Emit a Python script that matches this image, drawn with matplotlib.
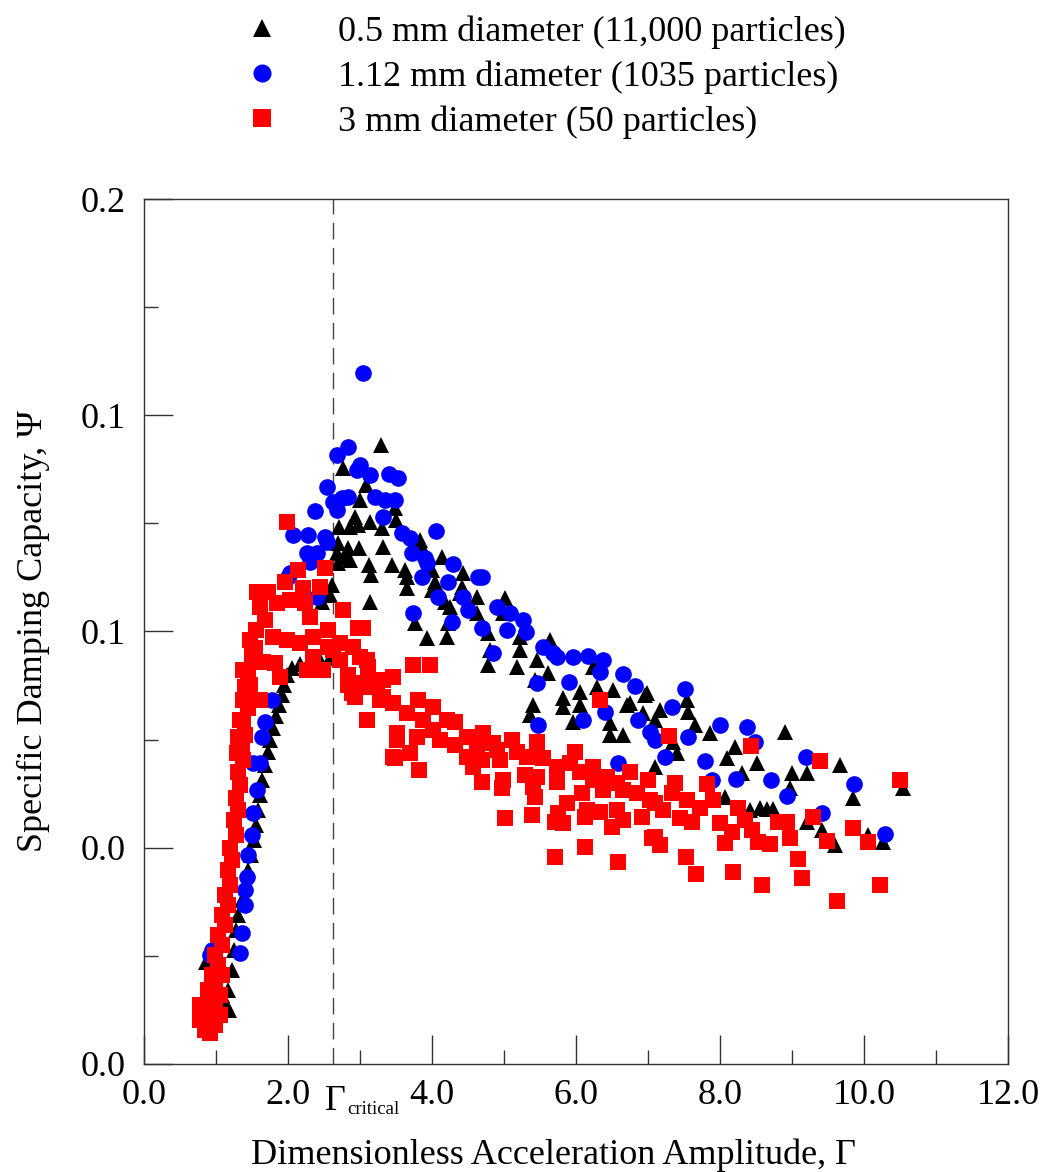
import numpy as np
import matplotlib
matplotlib.use("Agg")
import matplotlib.pyplot as plt
from matplotlib.ticker import MultipleLocator
from matplotlib.lines import Line2D

plt.rcParams['font.family'] = ['Liberation Serif', 'DejaVu Serif']

# (Gamma, Psi)
pts_05mm = [
    (0.86, 0.0236), (0.94, 0.0206), (1.03, 0.0183), (1.08, 0.016), (1.14, 0.0136),
    (1.18, 0.0125), (1.17, 0.0171), (1.22, 0.0217), (1.25, 0.0264), (1.28, 0.031),
    (1.31, 0.0344), (1.36, 0.0379), (1.40, 0.0414), (1.44, 0.0449), (1.49, 0.0483),
    (1.53, 0.0518), (1.56, 0.0553), (1.58, 0.0587), (1.61, 0.0622), (1.64, 0.0657),
    (1.68, 0.0691), (1.72, 0.0721), (1.75, 0.0749), (1.79, 0.0777), (1.83, 0.0805),
    (1.875, 0.083), (1.92, 0.0853), (1.94, 0.0876), (1.99, 0.0899), (2.06, 0.0916),
    (2.17, 0.0925), (2.31, 0.0929), (2.44, 0.0934), (2.58, 0.0939),
    (3.29, 0.1431), (2.76, 0.1378), (3.08, 0.1339), (3.0, 0.1304), (2.93, 0.1265),
    (2.71, 0.1242), (2.86, 0.1242), (2.97, 0.1246), (3.14, 0.1253), (3.31, 0.1239),
    (3.49, 0.1285), (3.5, 0.1258), (2.69, 0.1205), (2.83, 0.1193), (2.99, 0.1193),
    (3.32, 0.1195), (2.68, 0.1181), (2.79, 0.1172), (2.86, 0.1165), (2.69, 0.1158),
    (3.125, 0.1154), (3.44, 0.1154), (3.15, 0.1131), (3.625, 0.1142), (3.83, 0.1211),
    (3.86, 0.1195), (3.65, 0.1126), (4.0, 0.1142), (4.14, 0.1172), (4.04, 0.1114),
    (3.65, 0.1101), (4.0, 0.1096), (3.14, 0.1068), (2.61, 0.1107), (2.58, 0.1084),
    (2.47, 0.1068), (4.18, 0.1068), (4.43, 0.1135), (4.39, 0.1089), (3.76, 0.102),
    (3.93, 0.0985), (4.21, 0.0987), (4.22, 0.102), (4.25, 0.1057), (4.42, 0.1103),
    (4.625, 0.108), (4.625, 0.1043), (4.78, 0.0996), (4.81, 0.0957), (4.78, 0.0922),
    (5.01, 0.1077), (4.99, 0.1043), (5.22, 0.0987), (5.22, 0.0957), (5.18, 0.0918),
    (5.46, 0.0934), (5.64, 0.098), (5.61, 0.0904), (5.43, 0.0888), (5.40, 0.083),
    (5.36, 0.0807), (5.82, 0.0846), (5.82, 0.0825), (6.06, 0.086), (6.06, 0.083),
    (5.96, 0.0791), (6.29, 0.0918), (6.29, 0.0872), (6.51, 0.0865), (6.47, 0.0788),
    (6.47, 0.0761), (6.71, 0.083), (6.65, 0.0761), (6.99, 0.0858), (6.93, 0.0811),
    (7.17, 0.0818), (7.54, 0.0842), (7.56, 0.0814), (7.65, 0.0784), (7.86, 0.0765),
    (7.35, 0.0744), (7.40, 0.0719), (7.10, 0.0687), (8.21, 0.0733), (8.10, 0.0707),
    (8.51, 0.0696), (8.31, 0.0673), (8.90, 0.0768), (9.0, 0.0673), (9.21, 0.0673),
    (9.67, 0.0691), (8.07, 0.0617), (8.42, 0.0587), (8.56, 0.0592), (8.65, 0.059),
    (8.74, 0.059), (8.97, 0.0638), (9.21, 0.056), (9.42, 0.0541), (9.60, 0.0506),
    (9.85, 0.0615), (10.06, 0.0529), (10.26, 0.0513), (10.54, 0.0638), (6.75, 0.0835),
    (6.96, 0.0853), (7.10, 0.0795), (6.24, 0.0918),
]

pts_112mm = [
    (0.92, 0.0252), (0.94, 0.0264), (1.33, 0.0257), (1.36, 0.0303), (1.40, 0.0368),
    (1.40, 0.0402), (1.43, 0.0432), (1.44, 0.0483), (1.50, 0.0529), (1.51, 0.058),
    (1.57, 0.0633), (1.51, 0.0696), (1.61, 0.0696), (1.64, 0.0756), (1.68, 0.0791),
    (1.78, 0.0842), (3.04, 0.1598), (2.83, 0.1427), (2.68, 0.1408), (3.0, 0.1385),
    (2.96, 0.1373), (3.14, 0.1362), (3.40, 0.1364), (3.53, 0.1355), (2.54, 0.1334),
    (2.625, 0.1299), (2.83, 0.1311), (2.75, 0.1309), (2.68, 0.1281), (3.21, 0.1311),
    (3.35, 0.1304), (3.49, 0.1304), (2.375, 0.1279), (3.32, 0.1265), (2.07, 0.1223),
    (2.28, 0.1223), (2.51, 0.1218), (2.54, 0.1207), (3.58, 0.1228), (3.69, 0.1216),
    (4.06, 0.1232), (2.26, 0.1181), (2.40, 0.1181), (3.72, 0.1181), (3.90, 0.117),
    (3.93, 0.1158), (4.29, 0.1156), (3.86, 0.1126), (4.22, 0.1114), (4.08, 0.108),
    (4.43, 0.108), (3.74, 0.1043), (4.28, 0.1022), (2.40, 0.108), (2.03, 0.1135),
    (2.31, 0.1161), (2.0, 0.1126), (4.5, 0.105), (4.64, 0.1126), (4.69, 0.1126),
    (4.69, 0.1008), (4.90, 0.1057), (5.08, 0.1043), (5.04, 0.1003), (5.26, 0.1027),
    (5.31, 0.0999), (4.85, 0.095), (5.54, 0.0964), (5.68, 0.095), (5.74, 0.0941),
    (5.96, 0.0941), (6.17, 0.0943), (6.375, 0.0934), (6.33, 0.0906), (5.90, 0.0883),
    (5.46, 0.0881), (6.65, 0.0902), (6.82, 0.0874), (7.51, 0.0867), (7.33, 0.0825),
    (6.40, 0.0814), (6.10, 0.0795), (6.86, 0.0795), (5.47, 0.0784), (7.03, 0.0768),
    (7.56, 0.0756), (8.0, 0.0784), (7.10, 0.0749), (7.24, 0.071), (7.79, 0.0701),
    (8.375, 0.0779), (8.49, 0.0744), (7.89, 0.0657), (8.22, 0.0659), (8.71, 0.0657),
    (8.93, 0.062), (9.19, 0.071), (9.86, 0.0647), (9.42, 0.058), (10.29, 0.0532),
    (6.58, 0.0696),
]

pts_3mm = [
    (0.78, 0.0102), (0.85, 0.0079), (0.92, 0.0072), (0.99, 0.009), (0.78, 0.0136),
    (0.92, 0.0148), (0.99, 0.0125), (1.06, 0.0113), (0.89, 0.0171), (0.99, 0.0183),
    (1.06, 0.016), (0.94, 0.0206), (1.03, 0.0229), (1.08, 0.0206), (0.99, 0.0252),
    (1.08, 0.0275), (1.03, 0.0298), (1.125, 0.0321), (1.08, 0.0344), (1.17, 0.0368),
    (1.125, 0.0391), (1.19, 0.0414), (1.17, 0.0449), (1.22, 0.0472), (1.19, 0.0499),
    (1.28, 0.0529), (1.25, 0.0564), (1.31, 0.0587), (1.28, 0.0615), (1.33, 0.0645),
    (1.31, 0.0675), (1.375, 0.0703), (1.36, 0.0731), (1.40, 0.0761), (1.375, 0.0795),
    (1.44, 0.0823), (1.42, 0.0853), (1.47, 0.0876), (1.44, 0.0906), (1.50, 0.0934),
    (1.54, 0.0962), (1.47, 0.098), (1.56, 0.1003), (1.33, 0.0795), (1.31, 0.0756),
    (1.29, 0.0719),
    (1.57, 0.1091), (1.72, 0.1091), (1.96, 0.1114), (2.14, 0.1142), (2.51, 0.1147),
    (2.44, 0.1103), (2.21, 0.1101), (1.61, 0.1057), (1.85, 0.1066), (2.03, 0.1073),
    (2.24, 0.1066), (2.31, 0.1033), (1.68, 0.1027), (1.50, 0.0957), (1.79, 0.0987),
    (1.99, 0.098), (2.17, 0.0973), (2.35, 0.0987), (2.56, 0.1003), (2.76, 0.105),
    (2.97, 0.1008), (2.72, 0.0973), (2.90, 0.0964), (2.56, 0.0964), (2.35, 0.0941),
    (2.26, 0.0911), (2.49, 0.0911), (1.89, 0.0895), (1.375, 0.0911), (1.40, 0.0872),
    (1.65, 0.0929), (1.82, 0.0927), (1.375, 0.0842), (1.61, 0.0842), (3.10, 0.0934),
    (2.83, 0.0899), (2.89, 0.0858), (3.10, 0.0872), (3.32, 0.0888), (3.46, 0.0895),
    (3.28, 0.0842), (3.10, 0.0795), (3.46, 0.0835), (3.51, 0.0749), (3.46, 0.071),
    (1.99, 0.1253), (3.04, 0.1008), (3.74, 0.0922), (3.97, 0.0922),
    (2.625, 0.0957), (2.72, 0.0934), (3.0, 0.0941), (3.11, 0.0918), (2.83, 0.0876),
    (3.03, 0.0881), (2.93, 0.0849), (3.24, 0.0883), (3.32, 0.0849), (3.81, 0.0842),
    (4.01, 0.0825), (3.65, 0.0811), (3.875, 0.0795), (4.21, 0.0795), (4.32, 0.0791),
    (4.01, 0.0772), (3.51, 0.0765), (3.79, 0.0756), (3.69, 0.0719), (3.49, 0.0707),
    (3.82, 0.068), (4.11, 0.0749), (4.32, 0.0738), (4.49, 0.0756), (4.71, 0.0765),
    (4.49, 0.071), (4.625, 0.0733), (4.85, 0.0742), (4.69, 0.0703), (4.57, 0.0687),
    (4.90, 0.0726), (5.11, 0.0749), (5.46, 0.0744), (5.18, 0.0721), (4.94, 0.0703),
    (5.32, 0.071), (5.54, 0.0707), (4.69, 0.0652), (4.99, 0.0657), (4.97, 0.0638),
    (5.29, 0.0668), (5.46, 0.0664), (5.40, 0.064), (5.43, 0.0617), (5.74, 0.0687),
    (5.92, 0.0696), (5.99, 0.0721), (5.74, 0.0652), (6.06, 0.0675), (6.24, 0.0687),
    (6.24, 0.0657), (6.43, 0.0664), (6.375, 0.0633), (6.57, 0.065), (6.08, 0.0627),
    (5.875, 0.0603), (5.75, 0.058), (6.15, 0.0587), (6.33, 0.0583), (6.65, 0.0633),
    (6.75, 0.0675), (7.0, 0.0657), (6.85, 0.0627), (7.03, 0.061), (6.57, 0.0587),
    (6.65, 0.0564), (6.92, 0.0571), (5.01, 0.0569), (5.39, 0.0576), (5.71, 0.056),
    (5.82, 0.0557), (6.125, 0.0571), (6.5, 0.0548), (7.06, 0.0523), (6.125, 0.0502),
    (5.71, 0.0479), (6.58, 0.0467), (6.33, 0.0842), (7.29, 0.0758), (8.43, 0.0735),
    (9.39, 0.0701), (10.5, 0.0657), (7.375, 0.065), (7.82, 0.0647), (7.33, 0.0627),
    (7.54, 0.061), (7.90, 0.061), (7.72, 0.0592), (8.25, 0.0592), (7.10, 0.0603),
    (7.21, 0.0587), (7.44, 0.0569), (7.61, 0.056), (8.0, 0.0557), (8.35, 0.0564),
    (8.81, 0.056), (8.93, 0.056), (9.29, 0.0571), (8.17, 0.0536), (8.44, 0.0541),
    (8.07, 0.0511), (8.53, 0.0513), (8.69, 0.0509), (8.97, 0.0523), (9.49, 0.0516),
    (9.85, 0.0546), (10.06, 0.0513), (7.10, 0.0525), (7.17, 0.0506), (7.53, 0.0479),
    (7.67, 0.0439), (8.18, 0.0444), (9.08, 0.0474), (9.14, 0.043), (8.58, 0.0414),
    (9.625, 0.0377), (10.22, 0.0414),
]

gamma_critical = 2.625

labels = ['0.5 mm diameter (11,000 particles)',
          '1.12 mm diameter (1035 particles)',
          '3 mm diameter (50 particles)']

x_ticks = [0, 2, 4, 6, 8, 10, 12]
x_ticklabels = ['0.0', '2.0', '4.0', '6.0', '8.0', '10.0', '12.0']
y_ticks = [0.0, 0.05, 0.10, 0.15, 0.20]
y_ticklabels = ['0.0', '0.0', '0.1', '0.1', '0.2']

g05, p05 = np.array(pts_05mm).T
g112, p112 = np.array(pts_112mm).T
g3, p3 = np.array(pts_3mm).T

fig = plt.figure(figsize=(10.46, 11.72), dpi=100)
ax = fig.add_axes([0.1377, 0.0922, 0.826, 0.738])

ax.axvline(gamma_critical, color='#444444', lw=1.0, ls=(0, (12, 6)), zorder=1)

ms = 12
ax.plot(g05, p05, ls='none', marker='^', color='black', ms=ms, mew=0, zorder=2)
ax.plot(g112, p112, ls='none', marker='o', color='#0000ff', ms=ms, mew=0, zorder=3)
ax.plot(g3, p3, ls='none', marker='s', color='#ff0000', ms=ms, mew=0, zorder=4)

ax.set_xlim(0, 12)
ax.set_ylim(0, 0.2)
ax.set_xticks(x_ticks)
ax.set_xticklabels(x_ticklabels)
ax.xaxis.set_minor_locator(MultipleLocator(1))
ax.set_yticks(y_ticks)
ax.set_yticklabels(y_ticklabels)
ax.yaxis.set_minor_locator(MultipleLocator(0.025))

ax.tick_params(which='major', direction='in', length=21, width=1, labelsize=26,
               color='#333333', top=False, right=False)
ax.tick_params(which='minor', direction='in', length=10, width=1,
               color='#333333', top=False, right=False)
ax.tick_params(axis='x', pad=11)
ax.tick_params(axis='y', pad=13)
for sp in ax.spines.values():
    sp.set_linewidth(1.0)
    sp.set_color('#333333')

ax.set_xlabel('Dimensionless Acceleration Amplitude, Γ', fontsize=26, labelpad=19)
ax.xaxis.label.set_x(0.474)
ax.set_ylabel('Specific Damping Capacity, Ψ', fontsize=26, labelpad=22)

# Gamma_critical label under the axis
xt = ax.get_xaxis_transform()
ax.text(2.51, -0.0532, 'Γ', transform=xt, fontsize=26, ha='left', va='baseline')
ax.text(2.82, -0.058, 'critical', transform=xt, fontsize=13.5, ha='left', va='baseline')

handles = [
    Line2D([], [], ls='none', marker='^', color='black', ms=13, mew=0),
    Line2D([], [], ls='none', marker='o', color='#0000ff', ms=13, mew=0),
    Line2D([], [], ls='none', marker='s', color='#ff0000', ms=13, mew=0),
]
fig.legend(handles, labels, loc='upper left', bbox_to_anchor=(0.2333, 0.987),
           frameon=False, fontsize=26, handlelength=1.0, handletextpad=1.6,
           labelspacing=0.32, borderpad=0, borderaxespad=0)

fig.savefig('out.png', dpi=100)
